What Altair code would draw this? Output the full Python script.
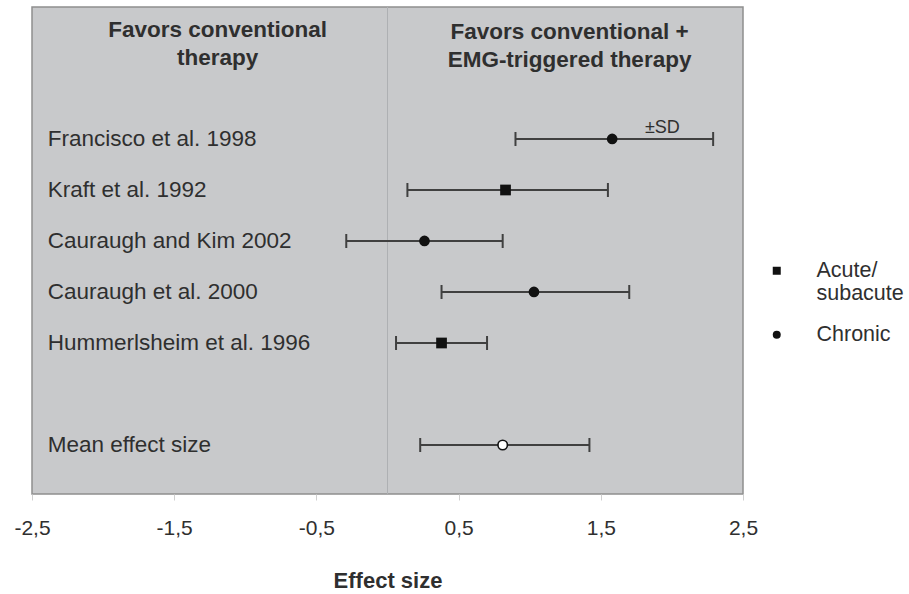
import altair as alt
import pandas as pd

# ---- data ----
studies = ["Francisco et al. 1998", "Kraft et al. 1992", "Cauraugh and Kim 2002",
           "Cauraugh et al. 2000", "Hummerlsheim et al. 1996"]
phase = ["Chronic", "Acute/subacute", "Chronic", "Chronic", "Acute/subacute"]
effect = [1.58, 0.83, 0.26, 1.03, 0.38]
sd_low = [0.90, 0.14, -0.29, 0.38, 0.06]
sd_high = [2.29, 1.55, 0.81, 1.70, 0.70]
study_row = [1, 2, 3, 4, 5]

mean_label = ["Mean effect size"]
mean_effect = [0.81]
mean_low = [0.23]
mean_high = [1.42]
mean_row = [7]

header_left = ["Favors conventional", "therapy"]
header_right = ["Favors conventional +", "EMG-triggered therapy"]
x_ticks = [-2.5, -1.5, -0.5, 0.5, 1.5, 2.5]
phase_order = ["Acute/subacute", "Chronic"]

studies_df = pd.DataFrame({"study": studies, "phase": phase, "effect": effect,
                           "low": sd_low, "high": sd_high, "row": study_row})
mean_df = pd.DataFrame({"study": mean_label, "effect": mean_effect,
                        "low": mean_low, "high": mean_high, "row": mean_row})
all_df = pd.concat([studies_df.drop(columns="phase"), mean_df], ignore_index=True)

FONT = "Liberation Sans"
INK = "#2f2f2f"
BAR = "#404040"

xscale = alt.Scale(domain=[-2.5, 2.5], nice=False, zero=False)
yscale = alt.Scale(domain=[-1.588, 7.961], nice=False, zero=False, reverse=True)

x_axis = alt.Axis(values=x_ticks, title="Effect size", grid=False, domain=False,
                  labelFlush=False,
                  labelExpr="(datum.value < 0 ? '-' : '') + replace(format(abs(datum.value), '.1f'), '.', ',')",
                  labelFont=FONT, labelFontSize=21, labelColor=INK,
                  tickColor="#d0d0d0", tickSize=6, labelPadding=17,
                  titleFont=FONT, titleFontSize=22, titleFontWeight="bold",
                  titleColor=INK, titlePadding=32)
y_enc = alt.Y("row:Q", scale=yscale, axis=None)

zero_line = alt.Chart(pd.DataFrame({"z": [0]})).mark_rule(color="#aeb0b3", strokeWidth=1).encode(
    x=alt.X("z:Q", scale=xscale, axis=x_axis))

bars = alt.Chart(all_df).mark_rule(color=BAR, strokeWidth=2).encode(
    x=alt.X("low:Q", scale=xscale), x2="high:Q", y=y_enc)

cap_lo = alt.Chart(all_df).mark_point(shape="M0,-1L0,1", size=196, strokeWidth=2,
                                      color=BAR, filled=False, opacity=1).encode(
    x=alt.X("low:Q", scale=xscale), y=y_enc)
cap_hi = alt.Chart(all_df).mark_point(shape="M0,-1L0,1", size=196, strokeWidth=2,
                                      color=BAR, filled=False, opacity=1).encode(
    x=alt.X("high:Q", scale=xscale), y=y_enc)

points = alt.Chart(studies_df).mark_point(filled=True, size=115, opacity=1).encode(
    x=alt.X("effect:Q", scale=xscale), y=y_enc,
    color=alt.value("#111111"),
    shape=alt.Shape("phase:N",
                    scale=alt.Scale(domain=phase_order, range=["square", "circle"]),
                    legend=alt.Legend(title=None, orient="none", legendX=734, legendY=253,
                                      padding=0, symbolSize=64, symbolFillColor="#111111",
                                      symbolStrokeColor="#111111",
                                      labelFont=FONT, labelFontSize=21.5, labelColor=INK,
                                      labelOffset=29, rowPadding=18, labelLimit=200,
                                      labelExpr="datum.label == 'Acute/subacute' ? ['Acute/', 'subacute'] : datum.label")))

mean_pt = alt.Chart(mean_df).mark_point(filled=True, fill="white", stroke="#111111",
                                        strokeWidth=1.6, size=90, shape="circle", opacity=1).encode(
    x=alt.X("effect:Q", scale=xscale), y=y_enc)

labels = alt.Chart(all_df).mark_text(align="left", baseline="middle", font=FONT,
                                     fontSize=22.5, color=INK).encode(
    x=alt.datum(-2.39, scale=xscale), y=y_enc, text="study:N")

hdr_l = alt.Chart(pd.DataFrame({"h": [0]})).mark_text(
    align="center", baseline="middle", font=FONT, fontSize=22.5, fontWeight="bold",
    color=INK, lineHeight=28, text=header_left).encode(
    x=alt.datum(-1.195, scale=xscale), y=alt.datum(-1.137, scale=yscale))
hdr_r = alt.Chart(pd.DataFrame({"h": [0]})).mark_text(
    align="center", baseline="middle", font=FONT, fontSize=22.5, fontWeight="bold",
    color=INK, lineHeight=28, text=header_right).encode(
    x=alt.datum(1.28, scale=xscale), y=alt.datum(-1.10, scale=yscale))

sd_note = alt.Chart(pd.DataFrame({"h": [0]})).mark_text(
    align="left", baseline="middle", font=FONT, fontSize=18, color=INK, text="±SD").encode(
    x=alt.datum(1.81, scale=xscale), y=alt.datum(0.79, scale=yscale))

chart = alt.layer(zero_line, bars, cap_lo, cap_hi, points, mean_pt, labels, hdr_l, hdr_r, sd_note).properties(
    width=711, height=487,
    autosize=alt.AutoSizeParams(type="none"),
    padding={"left": 32, "top": 7, "right": 166, "bottom": 100},
    background="white",
).configure_view(fill="#c8c9cb", stroke="#8f8f8f", strokeWidth=1.5)

chart.save("out.html", embed_options={"renderer": "svg", "actions": False})
